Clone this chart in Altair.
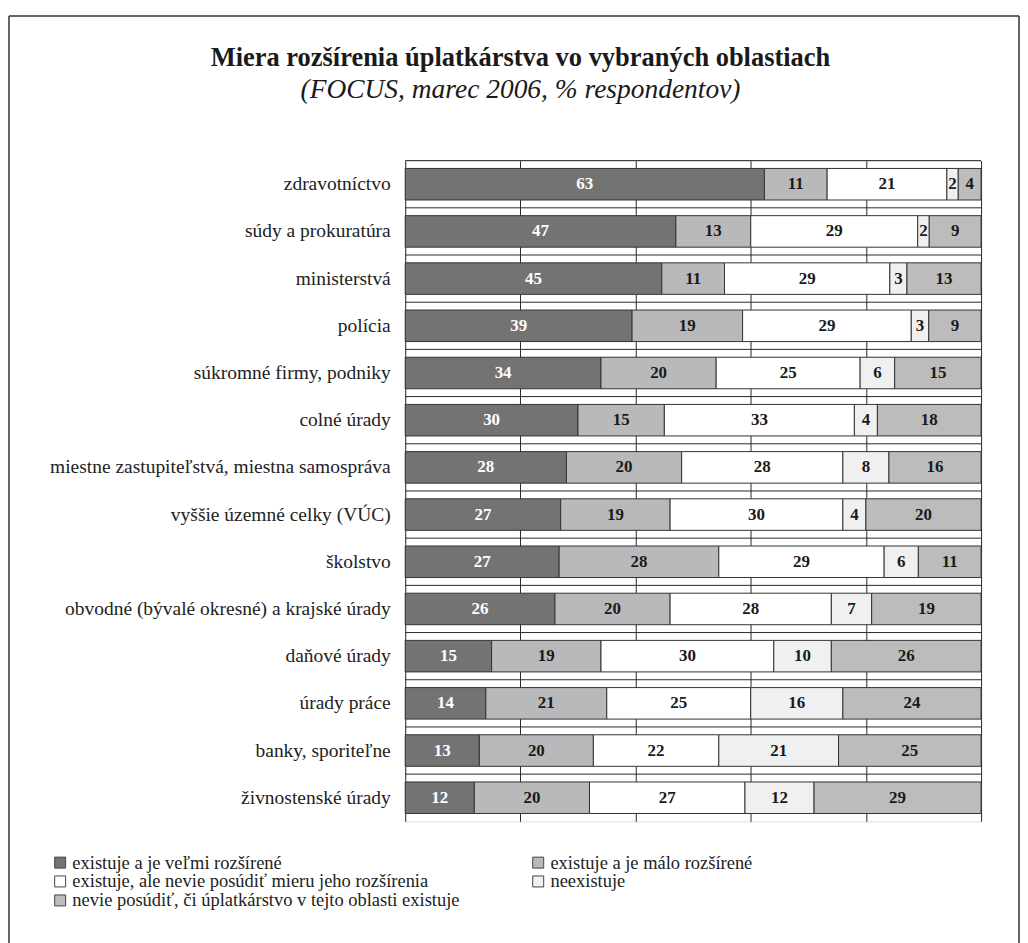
import altair as alt
import pandas as pd

SERIF = "Liberation Serif"

categories = [
    "zdravotníctvo",
    "súdy a prokuratúra",
    "ministerstvá",
    "polícia",
    "súkromné firmy, podniky",
    "colné úrady",
    "miestne zastupiteľstvá, miestna samospráva",
    "vyššie územné celky (VÚC)",
    "školstvo",
    "obvodné (bývalé okresné) a krajské úrady",
    "daňové úrady",
    "úrady práce",
    "banky, sporiteľne",
    "živnostenské úrady",
]
series = [
    "existuje a je veľmi rozšírené",
    "existuje a je málo rozšírené",
    "existuje, ale nevie posúdiť mieru jeho rozšírenia",
    "neexistuje",
    "nevie posúdiť, či úplatkárstvo v tejto oblasti existuje",
]
velmi_rozsirene = [63, 47, 45, 39, 34, 30, 28, 27, 27, 26, 15, 14, 13, 12]
malo_rozsirene = [11, 13, 11, 19, 20, 15, 20, 19, 28, 20, 19, 21, 20, 20]
nevie_mieru = [21, 29, 29, 29, 25, 33, 28, 30, 29, 28, 30, 25, 22, 27]
neexistuje = [2, 2, 3, 3, 6, 4, 8, 4, 6, 7, 10, 16, 21, 12]
nevie_ci_existuje = [4, 9, 13, 9, 15, 18, 16, 20, 11, 19, 26, 24, 25, 29]
colors = ["#737373", "#b9b9bb", "#ffffff", "#f0f0f0", "#bcbcbc"]

values = [velmi_rozsirene, malo_rozsirene, nevie_mieru, neexistuje, nevie_ci_existuje]
rows = []
for si, (s, vals) in enumerate(zip(series, values)):
    for c, v in zip(categories, vals):
        rows.append({"oblast": c, "typ": s, "hodnota": v, "poradie": si})
df = pd.DataFrame(rows)
cat_df = pd.DataFrame({"oblast": categories})

# the legend fills its two columns top-down, so list the series in that order
legend_order = [0, 2, 4, 1, 3]
legend_domain = [series[i] for i in legend_order]
legend_range = [colors[i] for i in legend_order]

y_scale = alt.Scale(paddingInner=0, paddingOuter=0)
y_axis = alt.Axis(
    title=None,
    labelFont=SERIF,
    labelFontSize=19.5,
    labelColor="#222222",
    labelPadding=15,
    labelLimit=500,
    ticks=False,
    domain=False,
    grid=False,
)

x_scale = alt.Scale(domain=[0, 1], nice=False)
x_axis = alt.Axis(
    values=[0, 0.2, 0.4, 0.6, 0.8, 1],
    labels=False,
    ticks=False,
    domain=False,
    title=None,
    grid=True,
    gridColor="#2a2a2a",
    gridWidth=1,
    gridOpacity=1,
)

# horizontal separators at the band boundaries
separators = alt.Chart(cat_df).mark_rule(color="#2a2a2a", strokeWidth=1).encode(
    y=alt.Y("oblast:N", sort=categories, bandPosition=0, scale=y_scale, axis=y_axis),
    x=alt.datum(0, scale=x_scale, axis=x_axis),
    x2=alt.datum(1),
)

base = alt.Chart(df)

LEGEND_FONT_SIZE = 18.5

bars = base.mark_bar(
    height={"band": 0.668}, stroke="#333333", strokeWidth=1
).encode(
    y=alt.Y("oblast:N", sort=categories, scale=y_scale, axis=y_axis),
    x=alt.X("hodnota:Q", stack="normalize", scale=x_scale, axis=x_axis),
    color=alt.Color(
        "typ:N",
        scale=alt.Scale(domain=legend_domain, range=legend_range),
        legend=alt.Legend(
            title=None,
            orient="none",
            legendX=-355,
            legendY=694,
            columns=2,
            columnPadding=69,
            rowPadding=-1,
            symbolType="square",
            symbolSize=121,
            symbolStrokeColor="#444444",
            symbolStrokeWidth=1,
            labelFont=SERIF,
            labelFontSize=LEGEND_FONT_SIZE,
            labelColor="#222222",
            labelOffset=3,
            labelLimit=600,
        ),
    ),
    order=alt.Order("poradie:Q"),
)

labels = base.transform_joinaggregate(
    spolu="sum(hodnota)", groupby=["oblast"]
).transform_window(
    kum="sum(hodnota)", sort=[alt.SortField("poradie")], groupby=["oblast"]
).transform_calculate(
    stred="(datum.kum - datum.hodnota / 2) / datum.spolu"
).mark_text(
    font=SERIF, fontSize=17, fontWeight="bold"
).encode(
    y=alt.Y("oblast:N", sort=categories),
    x=alt.X("stred:Q", scale=x_scale),
    text=alt.Text("hodnota:Q"),
    color=alt.condition("datum.poradie == 0", alt.value("#ffffff"), alt.value("#1a1a1a")),
)

frame_df = pd.DataFrame({"k": [0]})
FRAME_COLOR = "#333333"
frame_top = alt.Chart(frame_df).mark_rule(color=FRAME_COLOR, strokeWidth=1.5).encode(
    x=alt.value(-397), x2=alt.value(615), y=alt.value(-145)
)
frame_left = alt.Chart(frame_df).mark_rule(color=FRAME_COLOR, strokeWidth=1.5).encode(
    x=alt.value(-397), y=alt.value(-145), y2=alt.value(790)
)
frame_right = alt.Chart(frame_df).mark_rule(color=FRAME_COLOR, strokeWidth=1.5).encode(
    x=alt.value(615), y=alt.value(-145), y2=alt.value(790)
)

chart = alt.layer(separators, bars, labels, frame_top, frame_left, frame_right).properties(
    width=577,
    height=662,
    padding={"left": 0, "top": 6, "right": 0, "bottom": 0},
    title=alt.TitleParams(
        text="Miera rozšírenia úplatkárstva vo vybraných oblastiach",
        subtitle="(FOCUS, marec 2006, % respondentov)",
        font=SERIF,
        fontSize=26.5,
        fontWeight="bold",
        color="#1a1a1a",
        subtitleFont=SERIF,
        subtitleFontSize=27.5,
        subtitleFontStyle="italic",
        subtitleColor="#1a1a1a",
        subtitlePadding=4,
        anchor="middle",
        frame="group",
        dx=-173,
        offset=-88,
    ),
).resolve_scale(y="shared", x="shared").configure_view(
    stroke="#222222", strokeWidth=1.5
).configure_legend(
    labelFont=SERIF, labelFontSize=LEGEND_FONT_SIZE, labelColor="#222222"
).configure(background="#ffffff")

chart.save("out.html", embed_options={"renderer": "svg", "actions": False})
